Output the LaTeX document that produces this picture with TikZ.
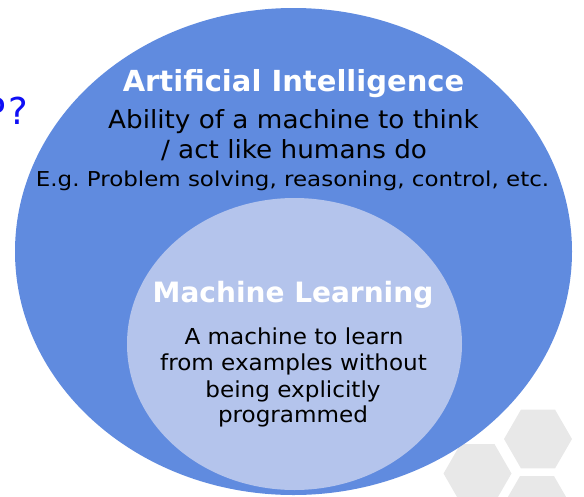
\documentclass[tikz,border=0pt]{standalone}
\usepackage{fontspec}
\setmainfont{DejaVu Sans}
\newfontfamily\wideA[FakeStretch=1.05]{DejaVu Sans}
\newfontfamily\wideB[FakeStretch=1.12]{DejaVu Sans}
\newfontfamily\wideC[FakeStretch=1.05]{DejaVu Sans}
\usetikzlibrary{shapes.geometric}
\definecolor{outerblue}{RGB}{96,139,223}
\definecolor{innerblue}{RGB}{180,196,236}
\definecolor{hexgray}{RGB}{232,232,232}
\definecolor{qblue}{RGB}{15,15,245}
\frenchspacing
\tikzset{
  ring/.style={ellipse, inner sep=0pt, draw=none},
  title/.style={text=white, anchor=base, inner sep=0pt},
  body/.style={text=black, font=\wideA\fontsize{25}{28}\selectfont, anchor=base, inner sep=0pt},
  small/.style={text=black, font=\wideB\fontsize{20.5}{22}\selectfont, anchor=base, inner sep=0pt},
  mlbody/.style={text=black, font=\wideC\fontsize{22}{24}\selectfont, anchor=base, inner sep=0pt},
  hex/.style={fill=hexgray, draw=none}
}
\begin{document}
\begin{tikzpicture}[x=1pt,y=-1pt]
\useasboundingbox (0,0) rectangle (584,496);
\clip (0,0) rectangle (584,496);
% hexagons
\foreach \cx/\cy in {538/439, 477.5/473.5, 537/505.5}{
  \fill[hex] (\cx,\cy) +(0:34pt) -- +(60:34pt) -- +(120:34pt) -- +(180:34pt) -- +(240:34pt) -- +(300:34pt) -- cycle;
}
% question mark
\node[text=qblue, font=\fontsize{37}{40}\selectfont, anchor=base east, inner sep=0pt] (q) at (28.5,124) {P\kern2.5pt?};
% ellipses
\node[ring, fill=outerblue, minimum width=557pt, minimum height=487pt] (ai) at (293.5,251.5) {};
\node[ring, fill=innerblue, minimum width=335pt, minimum height=292pt] (ml) at (294.5,344) {};
% AI texts
\node[title, font=\bfseries\fontsize{29}{34}\selectfont] (aititle) at (293.5,91) {Artificial Intelligence};
\node[body] (ai1) at (293.5,128.3) {Ability of a machine to think};
\node[body] (ai2) at (294,158.3) {/ act like humans do};
\node[small] (ai3) at (292.5,186.5) {E.g. Problem solving, reasoning, control, etc.};
% ML texts
\node[title, font=\bfseries\fontsize{28}{32}\selectfont] (mltitle) at (293,302) {Machine Learning};
\node[mlbody] (ml1) at (294,344) {A machine to learn};
\node[mlbody] (ml2) at (293.5,370.7) {from examples without};
\node[mlbody] (ml3) at (293,397) {being explicitly};
\node[mlbody] (ml4) at (293,422) {programmed};
\end{tikzpicture}
\end{document}
